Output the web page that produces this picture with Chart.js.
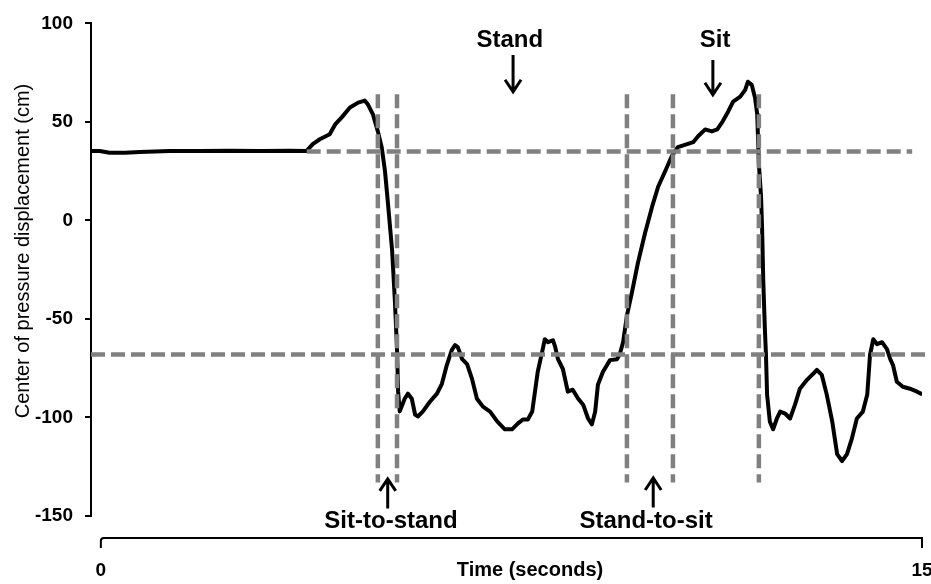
<!DOCTYPE html>
<html lang="en">
  <head>
    <meta charset="UTF-8" />
    <title>Center of pressure displacement</title>
    <style>
      body {
        margin: 0;
        background-color: #ffffff;
      }
      .chart-box {
        width: 931px;
        height: 584px;
      }
    </style>
    <script src="https://cdn.jsdelivr.net/npm/chart.js"></script>
  </head>
  <body>
    <div class="chart-box"><canvas id="copChart"></canvas></div>

    <script>
      // time (s) and centre of pressure trace (cm)
      const timeSec = [-0.18, -0.02, 0.16, 0.44, 0.71, 1.26, 1.81, 2.36, 2.91, 3.45, 3.76, 3.87, 4.00, 4.18, 4.28, 4.40, 4.55, 4.70, 4.82, 4.88,
        4.97, 5.06, 5.13, 5.19, 5.24, 5.32, 5.37, 5.41, 5.43, 5.46, 5.55, 5.61, 5.68, 5.74, 5.79, 5.88, 6.01, 6.14, 6.23, 6.32,
        6.41, 6.47, 6.52, 6.60, 6.69, 6.78, 6.87, 6.98, 7.11, 7.24, 7.38, 7.51, 7.62, 7.71, 7.80, 7.88, 7.93, 7.98, 8.06, 8.11,
        8.17, 8.26, 8.30, 8.35, 8.44, 8.53, 8.62, 8.72, 8.81, 8.90, 8.97, 9.03, 9.08, 9.17, 9.30, 9.43, 9.48, 9.54, 9.61, 9.70,
        9.81, 9.94, 10.07, 10.18, 10.31, 10.43, 10.54, 10.71, 10.82, 10.91, 11.04, 11.16, 11.26, 11.36, 11.46, 11.55, 11.68, 11.77, 11.82, 11.89,
        11.95, 11.99, 12.00, 12.02, 12.06, 12.08, 12.10, 12.13, 12.15, 12.17, 12.22, 12.28, 12.35, 12.41, 12.50, 12.59, 12.68, 12.77, 12.90, 13.08,
        13.17, 13.26, 13.36, 13.45, 13.54, 13.63, 13.72, 13.81, 13.92, 14.00, 14.05, 14.11, 14.18, 14.27, 14.36, 14.42, 14.47, 14.54, 14.65, 14.78,
        14.91, 14.98];
      const copCm = [35.3, 35.2, 34.4, 34.4, 34.7, 35.2, 35.2, 35.4, 35.2, 35.4, 35.3, 38.7, 41.2, 43.7, 48.7, 52.3, 57.3, 59.8, 60.8, 58.8,
        53.8, 45.2, 37.2, 25.1, 10.1, -15.1, -40.2, -65.3, -86.9, -96.9, -90.5, -87.9, -90.5, -98.5, -99.5, -97, -92, -87.9, -82.9, -73.4,
        -65.8, -63.3, -64.3, -70.4, -72.9, -80.4, -90.5, -94.5, -97, -102, -106, -106, -103, -101, -101, -97, -86.9, -76.9, -66.8, -60.3,
        -61.8, -60.8, -64.3, -70.4, -75.4, -86.9, -85.9, -90.5, -93.5, -100.5, -103.5, -97, -83.4, -76.9, -70.9, -70.4, -67.8, -61.8, -48.2, -36.7,
        -21.6, -6.5, 7.0, 17.1, 25.1, 32.7, 37.2, 38.7, 39.7, 42.7, 46.2, 45.2, 46.2, 50.3, 55.3, 60.3, 62.8, 66.3, 70.4, 68.8,
        62.3, 53.8, 45.2, 28.6, 12.1, -5.0, -30.2, -55.3, -68.3, -88.4, -102, -106, -100.5, -97, -98, -100.5, -93.5, -85.4, -80.9, -75.9,
        -78.4, -88.4, -102, -118.6, -122.1, -118.6, -110.6, -100.5, -97, -88.4, -68.3, -60.3, -62.8, -61.8, -65.3, -70.4, -73.4, -81.9, -84.4, -85.4,
        -86.9, -87.9];

      // sit / stand thresholds (cm) and the time span each covers
      const thresholdLevels = [35, -68];
      const thresholdStart = [3.76, -0.18];
      const thresholdEnd = [14.82, 15.16];

      // transition markers (s) and their vertical extent (cm)
      const phaseMarks = [5.06, 5.41, 9.61, 10.45, 12.02];
      const phaseTop = 64;
      const phaseBottom = -133;

      const yTicks = [100, 50, 0, -50, -100, -150];
      const xTicks = [0, 15];
      const xTickLabels = ['0', '15'];

      // phase annotations, in data units
      const phaseLabels = ['Stand', 'Sit', 'Sit-to-stand', 'Stand-to-sit'];
      const labelTime = [7.47, 11.22, 5.30, 9.96];
      const labelValue = [88, 88, -156, -156];
      const arrowTime = [7.53, 11.18, 5.24, 10.09];
      const arrowFrom = [84, 81.4, -146.2, -145.7];
      const arrowTo = [65.3, 63.8, -131.2, -130.7];

      const FONT = '"Liberation Sans", Arial, sans-serif';
      const GREY = '#808080';

      const datasets = [];
      thresholdLevels.forEach((lvl, i) => {
        datasets.push({
          data: [{ x: thresholdStart[i], y: lvl }, { x: thresholdEnd[i], y: lvl }],
          borderColor: GREY,
          borderWidth: 4.5,
          borderDash: [14, 6],
          pointRadius: 0,
          showLine: true,
          clip: false,
          order: 1
        });
      });
      phaseMarks.forEach(t => {
        datasets.push({
          data: [{ x: t, y: phaseTop }, { x: t, y: phaseBottom }],
          borderColor: GREY,
          borderWidth: 4.5,
          borderDash: [14, 6],
          pointRadius: 0,
          showLine: true,
          order: 1
        });
      });
      datasets.push({
        data: timeSec.map((t, i) => ({ x: t, y: copCm[i] })),
        borderColor: '#000000',
        borderWidth: 4,
        borderJoinStyle: 'round',
        borderCapStyle: 'round',
        pointRadius: 0,
        showLine: true,
        tension: 0,
        order: 2
      });

      const extras = {
        id: 'extras',
        afterDraw(chart) {
          const ctx = chart.ctx;
          const xs = chart.scales.x;
          const ys = chart.scales.y;
          const area = chart.chartArea;
          ctx.save();

          // bracket-style time axis
          const bx0 = xs.getPixelForValue(xTicks[0]);
          const bx1 = xs.getPixelForValue(xTicks[xTicks.length - 1]);
          const by = area.bottom + 22;
          ctx.strokeStyle = '#000';
          ctx.lineWidth = 2;
          ctx.beginPath();
          ctx.moveTo(bx0, by + 10);
          ctx.lineTo(bx0, by + 3);
          ctx.quadraticCurveTo(bx0, by, bx0 + 3, by);
          ctx.lineTo(bx1, by);
          ctx.lineTo(bx1, by + 10);
          ctx.stroke();

          // axis titles
          ctx.fillStyle = '#000';
          ctx.textAlign = 'center';
          ctx.textBaseline = 'middle';
          ctx.font = 'bold 20px ' + FONT;
          ctx.fillText('Time (seconds)', 530, 570);
          ctx.save();
          ctx.translate(23, 251);
          ctx.rotate(-Math.PI / 2);
          ctx.font = '20px ' + FONT;
          ctx.fillText('Center of pressure displacement (cm)', 0, 0);
          ctx.restore();

          // phase labels and arrows
          ctx.font = 'bold 24px ' + FONT;
          ctx.textBaseline = 'alphabetic';
          phaseLabels.forEach((txt, i) => {
            ctx.fillText(txt, xs.getPixelForValue(labelTime[i]), ys.getPixelForValue(labelValue[i]));
            const ax = xs.getPixelForValue(arrowTime[i]);
            const a0 = ys.getPixelForValue(arrowFrom[i]);
            const a1 = ys.getPixelForValue(arrowTo[i]);
            const dir = a1 > a0 ? 1 : -1;
            ctx.lineWidth = 3;
            ctx.beginPath();
            ctx.moveTo(ax, a0);
            ctx.lineTo(ax, a1);
            ctx.moveTo(ax - 8, a1 - dir * 12);
            ctx.lineTo(ax, a1);
            ctx.lineTo(ax + 8, a1 - dir * 12);
            ctx.stroke();
          });
          ctx.restore();
        }
      };

      new Chart(document.getElementById('copChart'), {
        type: 'scatter',
        data: { datasets: datasets },
        options: {
          responsive: true,
          maintainAspectRatio: false,
          animation: false,
          layout: { padding: { top: 20, right: 9, left: 0, bottom: 0 } },
          plugins: {
            legend: { display: false },
            tooltip: { enabled: false }
          },
          scales: {
            x: {
              type: 'linear',
              min: -0.18,
              max: 15,
              afterBuildTicks: s => { s.ticks = xTicks.map(v => ({ value: v })); },
              afterFit: s => { s.height = 68; s.paddingLeft = 0; s.paddingRight = 0; },
              grid: { display: false, drawTicks: false },
              border: { display: false },
              ticks: {
                autoSkip: false,
                maxRotation: 0,
                padding: 43,
                color: '#000',
                font: { family: FONT, size: 19, weight: 'bold' },
                callback: (v, i) => xTickLabels[i]
              }
            },
            y: {
              type: 'linear',
              min: -150,
              max: 100,
              afterBuildTicks: s => { s.ticks = yTicks.map(v => ({ value: v })); },
              afterFit: s => { s.width = 91; },
              grid: { drawOnChartArea: false, drawTicks: true, tickLength: 6, color: '#000', lineWidth: 2 },
              border: { display: true, color: '#000', width: 2 },
              ticks: {
                padding: 12,
                color: '#000',
                font: { family: FONT, size: 19, weight: 'bold' }
              }
            }
          }
        },
        plugins: [extras]
      });
    </script>
  </body>
</html>
